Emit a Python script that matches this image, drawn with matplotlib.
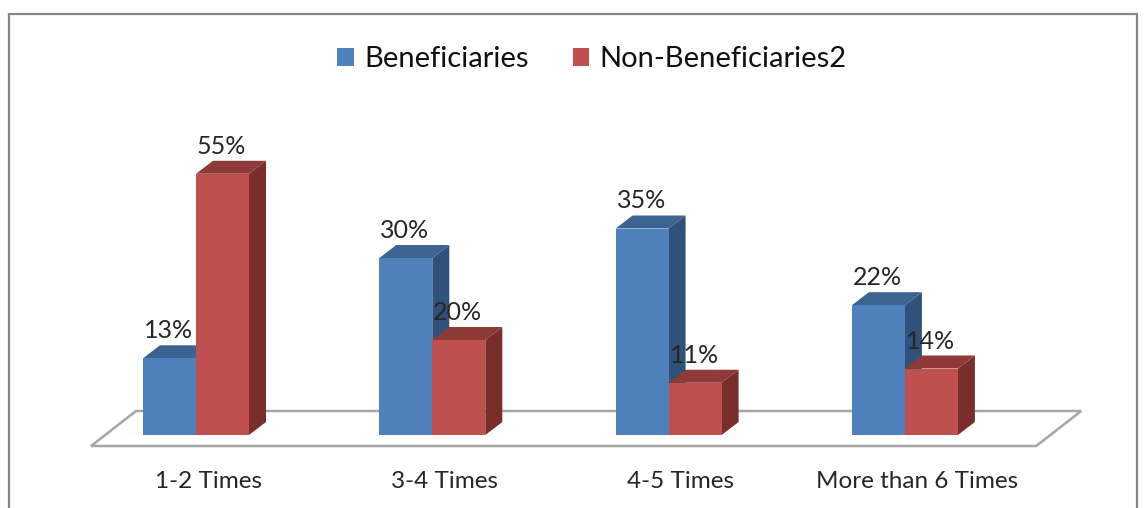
import matplotlib
matplotlib.use('Agg')
import matplotlib.pyplot as plt
from matplotlib.patches import Patch, Polygon, Rectangle

categories = ['1-2 Times', '3-4 Times', '4-5 Times', 'More than 6 Times']
beneficiaries = [13, 30, 35, 22]
non_beneficiaries = [55, 20, 11, 14]

W, H = 1148, 508
X0, UNIT = 196, 236.3      # pixel of first category, pixels per category
Y0, PX_PER_PCT = 435, 5.9  # baseline pixel, pixels per percent
RED_SCALE = 0.805          # red series was drawn shorter in the original
BAR_W = 53 / UNIT
DX, DY = 17 / UNIT, 13 / PX_PER_PCT  # bar depth

plt.rcParams['font.family'] = ['Lato', 'DejaVu Sans']

fig = plt.figure(figsize=(W / 100, H / 100), dpi=100)
ax = fig.add_axes([0, 0, 1, 1])
ax.set_xlim(-X0 / UNIT, (W - X0) / UNIT)
ax.set_ylim(-(H - Y0) / PX_PER_PCT, Y0 / PX_PER_PCT)
ax.axis('off')

# chart frame, runs off the bottom of the picture
fig.patches.append(Rectangle((9 / W, -0.1), 1128 / W, 1.1 - 14 / H, transform=fig.transFigure,
                             fill=False, ec='#868686', lw=1.6))

# floor
n = len(categories)
fl, fb = -105 / UNIT, -11 / PX_PER_PCT
ax.add_patch(Polygon([(fl, fb), (fl + n, fb), (fl + n + 45 / UNIT, fb + 35 / PX_PER_PCT),
                      (fl + 45 / UNIT, fb + 35 / PX_PER_PCT)],
                     closed=True, fc='white', ec='#A6A6A6', lw=1.8, zorder=1))


def box(x, h, front, top, side, z):
    l, r = x - BAR_W, x
    ax.bar(l, h, BAR_W, align='edge', color=front, zorder=z + 1)
    ax.add_patch(Polygon([(r, 0), (r + DX, DY), (r + DX, h + DY), (r, h)], fc=side, ec='none', zorder=z))
    ax.add_patch(Polygon([(l, h), (r, h), (r + DX, h + DY), (l + DX, h + DY)], fc=top, ec='none', zorder=z))


for i, cat in enumerate(categories):
    h1 = beneficiaries[i]
    h2 = non_beneficiaries[i] * RED_SCALE
    box(i, h1, '#4F81BD', '#3C6392', '#30527A', 2 + i * 4)
    box(i + BAR_W, h2, '#C0504D', '#8E3A38', '#7A2E2C', 4 + i * 4)
    ax.text(i - BAR_W / 2 - 1 / UNIT, h1 + 20 / PX_PER_PCT, f'{beneficiaries[i]}%', ha='center', va='baseline',
            fontsize=18, color='#262626', zorder=40)
    ax.text(i + BAR_W / 2 - 1 / UNIT, h2 + 20 / PX_PER_PCT, f'{non_beneficiaries[i]}%', ha='center', va='baseline',
            fontsize=18, color='#262626', zorder=40)
    ax.text(i + 12 / UNIT, -(488 - Y0) / PX_PER_PCT, cat, ha='center', va='baseline',
            fontsize=17.5, color='#262626', zorder=40)

fig.legend(handles=[Patch(fc='#4F81BD', label='Beneficiaries'), Patch(fc='#C0504D', label='Non-Beneficiaries2')],
           loc='center', bbox_to_anchor=(592 / W, 1 - 59 / H), ncol=2, frameon=False, fontsize=21,
           handlelength=0.58, handleheight=0.58, handletextpad=0.35, columnspacing=1.5, labelcolor='#111111')

fig.savefig('out.png', dpi=100)
